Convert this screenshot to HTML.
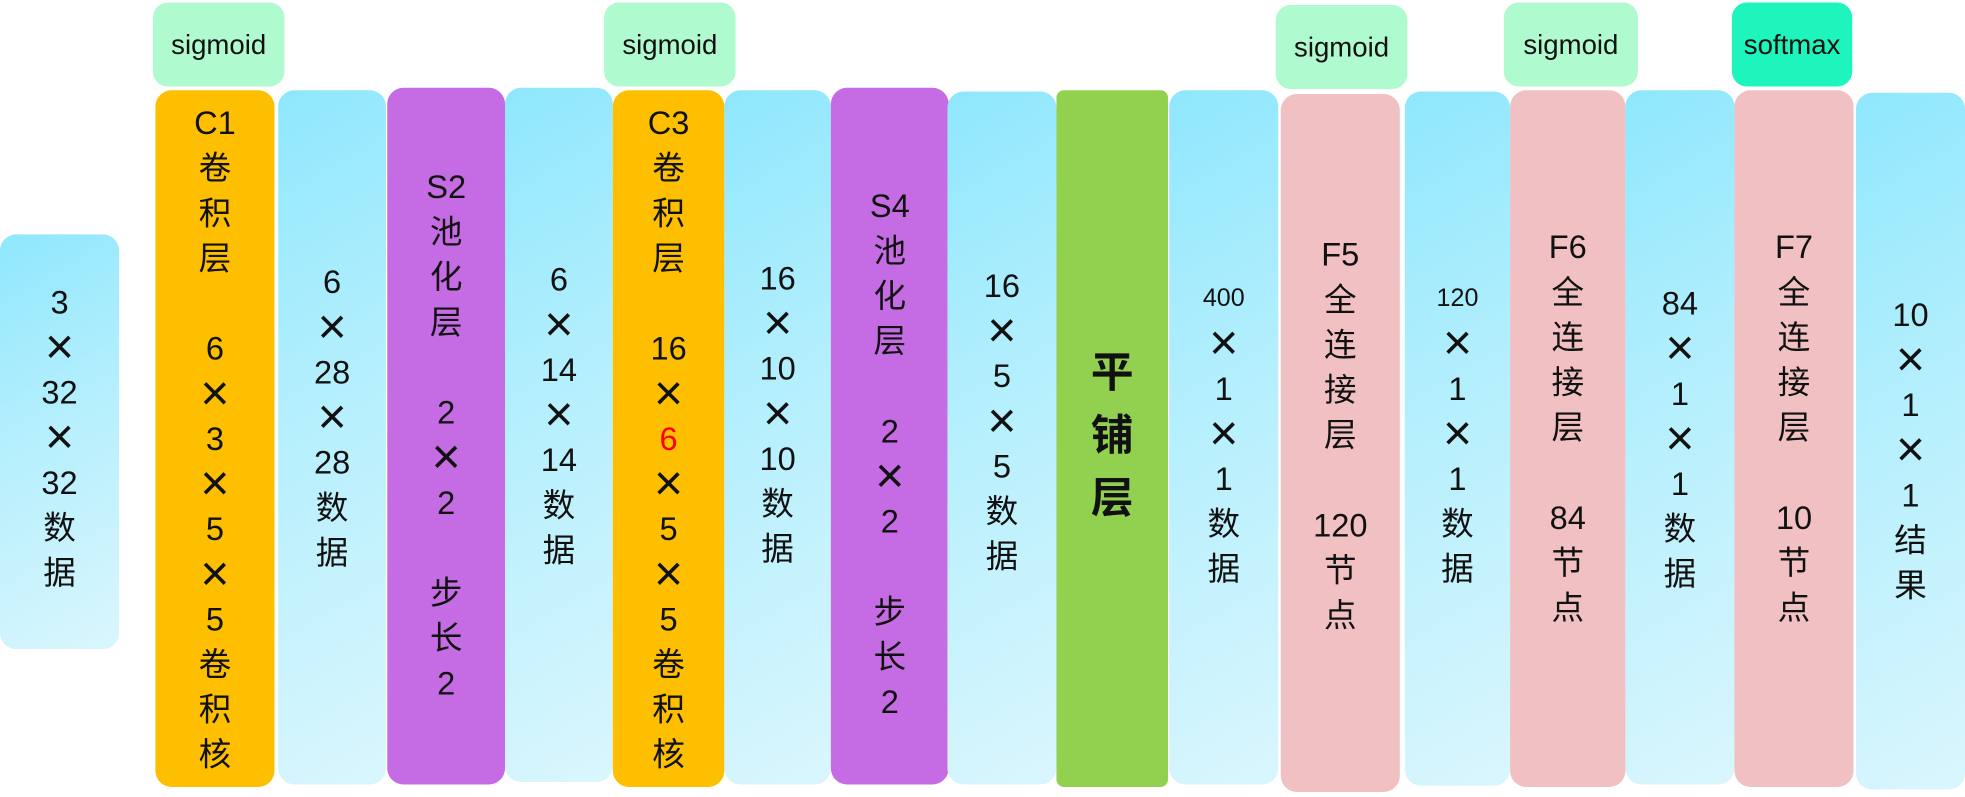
<!DOCTYPE html>
<html><head><meta charset="utf-8">
<style>
html,body{margin:0;padding:0;background:#fff;width:1965px;height:796px;overflow:hidden}
#wrap{position:absolute;left:0;top:0;width:1568px;height:636px;transform:scale(1.2532);transform-origin:0 0}
.b{position:absolute;border-radius:13px}
.blue{background:linear-gradient(150deg,#8fe7fd 0%,#b5effd 45%,#daf6fd 100%)}
.or{background:#fdbf00}.pu{background:#c56be3}.gr{background:#92d050;border-radius:6px}.pk{background:#f0c0c2}
.act{position:absolute;background:#b0fad0;border-radius:12px;font:22px "Liberation Sans",sans-serif;color:#111;display:flex;align-items:center;justify-content:center}
.sm{background:#1df5bc}
.t{position:absolute;left:0;right:0;text-align:center;font:26px/36px "Liberation Sans","Noto Sans CJK SC",sans-serif;color:#111;transform:translateY(-50%)}
.t div{height:36px}
.t div.x{font-size:40px;line-height:36px;font-weight:300}
.red{color:#f00}
.s{font-size:20px}
.gt{font-weight:bold;font-size:34px;line-height:50px}
.gt div{height:50px}
</style></head><body>
<div id="wrap">
<div class="act" style="left:122px;top:2px;width:105px;height:67px">sigmoid</div>
<div class="act" style="left:482px;top:2px;width:105px;height:67px">sigmoid</div>
<div class="act" style="left:1018px;top:4px;width:105px;height:67px">sigmoid</div>
<div class="act" style="left:1200px;top:2px;width:107px;height:67px">sigmoid</div>
<div class="act sm" style="left:1382px;top:2px;width:96px;height:67px">softmax</div>

<div class="b blue" style="left:0;top:187px;width:95px;height:331px"><div class="t" style="top:162px"><div>3</div><div class="x">×</div><div>32</div><div class="x">×</div><div>32</div><div>数</div><div>据</div></div></div>
<div class="b or" style="left:124px;top:72px;width:95px;height:556px"><div class="t" style="top:278px"><div>C1</div><div>卷</div><div>积</div><div>层</div><div></div><div>6</div><div class="x">×</div><div>3</div><div class="x">×</div><div>5</div><div class="x">×</div><div>5</div><div>卷</div><div>积</div><div>核</div></div></div>
<div class="b blue" style="left:222px;top:72px;width:86px;height:554px"><div class="t" style="top:261px"><div>6</div><div class="x">×</div><div>28</div><div class="x">×</div><div>28</div><div>数</div><div>据</div></div></div>
<div class="b pu" style="left:309px;top:70px;width:94px;height:556px"><div class="t" style="top:277px"><div>S2</div><div>池</div><div>化</div><div>层</div><div></div><div>2</div><div class="x">×</div><div>2</div><div></div><div>步</div><div>长</div><div>2</div></div></div>
<div class="b blue" style="left:403px;top:70px;width:86px;height:554px"><div class="t" style="top:261px"><div>6</div><div class="x">×</div><div>14</div><div class="x">×</div><div>14</div><div>数</div><div>据</div></div></div>
<div class="b or" style="left:489px;top:72px;width:89px;height:556px"><div class="t" style="top:278px"><div>C3</div><div>卷</div><div>积</div><div>层</div><div></div><div>16</div><div class="x">×</div><div class="red">6</div><div class="x">×</div><div>5</div><div class="x">×</div><div>5</div><div>卷</div><div>积</div><div>核</div></div></div>
<div class="b blue" style="left:578px;top:72px;width:85px;height:554px"><div class="t" style="top:258px"><div>16</div><div class="x">×</div><div>10</div><div class="x">×</div><div>10</div><div>数</div><div>据</div></div></div>
<div class="b pu" style="left:663px;top:70px;width:94px;height:556px"><div class="t" style="top:292px"><div>S4</div><div>池</div><div>化</div><div>层</div><div></div><div>2</div><div class="x">×</div><div>2</div><div></div><div>步</div><div>长</div><div>2</div></div></div>
<div class="b blue" style="left:756px;top:73px;width:87px;height:553px"><div class="t" style="top:263px"><div>16</div><div class="x">×</div><div>5</div><div class="x">×</div><div>5</div><div>数</div><div>据</div></div></div>
<div class="b gr" style="left:843px;top:72px;width:89px;height:556px"><div class="t gt" style="top:276px"><div>平</div><div>铺</div><div>层</div></div></div>
<div class="b blue" style="left:933px;top:72px;width:87px;height:554px"><div class="t" style="top:274px"><div class="s">400</div><div class="x">×</div><div>1</div><div class="x">×</div><div>1</div><div>数</div><div>据</div></div></div>
<div class="b pk" style="left:1022px;top:75px;width:95px;height:557px"><div class="t" style="top:272px"><div>F5</div><div>全</div><div>连</div><div>接</div><div>层</div><div></div><div>120</div><div>节</div><div>点</div></div></div>
<div class="b blue" style="left:1121px;top:73px;width:84px;height:554px"><div class="t" style="top:273px"><div class="s">120</div><div class="x">×</div><div>1</div><div class="x">×</div><div>1</div><div>数</div><div>据</div></div></div>
<div class="b pk" style="left:1205px;top:72px;width:92px;height:556px"><div class="t" style="top:269px"><div>F6</div><div>全</div><div>连</div><div>接</div><div>层</div><div></div><div>84</div><div>节</div><div>点</div></div></div>
<div class="b blue" style="left:1297px;top:72px;width:87px;height:554px"><div class="t" style="top:278px"><div>84</div><div class="x">×</div><div>1</div><div class="x">×</div><div>1</div><div>数</div><div>据</div></div></div>
<div class="b pk" style="left:1384px;top:72px;width:95px;height:556px"><div class="t" style="top:269px"><div>F7</div><div>全</div><div>连</div><div>接</div><div>层</div><div></div><div>10</div><div>节</div><div>点</div></div></div>
<div class="b blue" style="left:1481px;top:74px;width:87px;height:556px"><div class="t" style="top:285px"><div>10</div><div class="x">×</div><div>1</div><div class="x">×</div><div>1</div><div>结</div><div>果</div></div></div>
</div>
</body></html>
